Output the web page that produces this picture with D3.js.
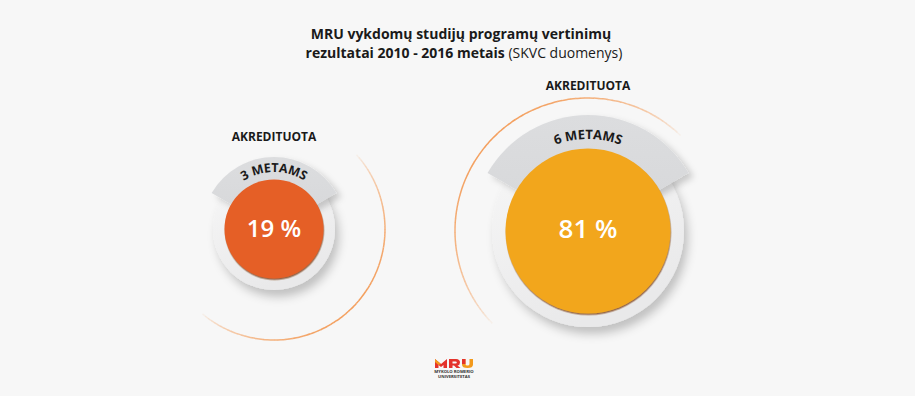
<!DOCTYPE html>
<html>
<head>
<meta charset="utf-8">
<script src="https://cdn.jsdelivr.net/npm/d3@7"></script>
<style>
  html, body { margin: 0; padding: 0; background: #f7f7f7; }
  svg { display: block; }
</style>
</head>
<body>
<svg id="chart" width="915" height="396"></svg>
<script>
// ---- data ----
const categories = ["3 METAMS", "6 METAMS"];
const values = [19, 81];
const headers = ["AKREDITUOTA", "AKREDITUOTA"];
const valueLabels = ["19 %", "81 %"];
const titleLine1 = "MRU vykdomų studijų programų vertinimų";
const titleLine2Bold = "rezultatai 2010 - 2016 metais";
const titleLine2Normal = " (SKVC duomenys)";
const colors = ["#e55e25", "#f2a61f"];

// ---- layout ----
const W = 915, H = 396;
const svg = d3.select("#chart");
svg.append("rect").attr("width", W).attr("height", H).attr("fill", "#f7f7f7");

const defs = svg.append("defs");
const sh = defs.append("filter").attr("id", "ringShadow").attr("x", "-30%").attr("y", "-30%").attr("width", "160%").attr("height", "160%");
sh.append("feDropShadow").attr("dx", 4).attr("dy", 7).attr("stdDeviation", 5).attr("flood-color", "#000").attr("flood-opacity", 0.22);
const sh2 = defs.append("filter").attr("id", "bandShadow").attr("x", "-30%").attr("y", "-30%").attr("width", "160%").attr("height", "160%");
sh2.append("feDropShadow").attr("dx", 5).attr("dy", 4).attr("stdDeviation", 3).attr("flood-color", "#000").attr("flood-opacity", 0.18);
const sh3 = defs.append("filter").attr("id", "discShadow").attr("x", "-30%").attr("y", "-30%").attr("width", "160%").attr("height", "160%");
sh3.append("feDropShadow").attr("dx", 0.5).attr("dy", 1.5).attr("stdDeviation", 0.6).attr("flood-color", "#7a3a10").attr("flood-opacity", 0.75);

const ringGrad = defs.append("linearGradient").attr("id", "ringGrad").attr("x1", 0).attr("y1", 0).attr("x2", 0.4).attr("y2", 1);
ringGrad.append("stop").attr("offset", "0%").attr("stop-color", "#f8f8f8");
ringGrad.append("stop").attr("offset", "100%").attr("stop-color", "#e9e9ea");
const bandGrad = defs.append("linearGradient").attr("id", "bandGrad").attr("x1", 0).attr("y1", 0).attr("x2", 0).attr("y2", 1);
bandGrad.append("stop").attr("offset", "0%").attr("stop-color", "#dcdddf");
bandGrad.append("stop").attr("offset", "100%").attr("stop-color", "#d6d7d9");

// value -> disc radius
const rScale = d3.scaleLinear().domain([19, 81]).range([49.5, 82.5]);
const xScale = d3.scalePoint().domain(categories).range([274, 588]);

const layout = [
  { cy: 229, ring: 61, band: 72, textR: 57, arcR: 111, arcA: [48, 220], headY: 141, valY: 237, valSize: 24, tagSize: 12.5 },
  { cy: 231, ring: 96, band: 116, textR: 92, arcR: 133, arcA: [-134, 44], headY: 90, valY: 238, valSize: 26, tagSize: 13 }
];

const rad = d => d * Math.PI / 180;

categories.forEach((cat, i) => {
  const L = layout[i];
  const cx = xScale(cat);
  const r = rScale(values[i]);
  const g = svg.append("g").attr("transform", `translate(${cx},${L.cy})`);

  // outer thin orange arc with fading ends
  const N = 90;
  const a0 = rad(L.arcA[0]), a1 = rad(L.arcA[1]);
  for (let k = 0; k < N; k++) {
    const s = a0 + (a1 - a0) * k / N, e = a0 + (a1 - a0) * (k + 1.05) / N;
    const t = (k + 0.5) / N;
    const op = Math.pow(Math.sin(Math.PI * t), 0.6);
    g.append("path")
      .attr("d", d3.arc()({ innerRadius: L.arcR - 0.75, outerRadius: L.arcR + 0.75, startAngle: s, endAngle: e }))
      .attr("fill", "#f39a55").attr("opacity", op * 0.95);
  }

  // white ring with shadow
  g.append("circle").attr("r", L.ring).attr("fill", "url(#ringGrad)").attr("filter", "url(#ringShadow)");

  // gray band
  g.append("path")
    .attr("d", d3.arc()({ innerRadius: 0, outerRadius: L.band, startAngle: rad(-60), endAngle: rad(60) }))
    .attr("fill", "url(#bandGrad)").attr("filter", "url(#bandShadow)");

  // disc
  g.append("circle").attr("r", r).attr("fill", colors[i]).attr("filter", "url(#discShadow)");

  // curved tag text (path in absolute coordinates)
  const pid = "tp" + i;
  const tr = L.textR;
  const sx = cx - tr * Math.sin(rad(60)), ex = cx + tr * Math.sin(rad(60)), yy = L.cy - tr * Math.cos(rad(60));
  defs.append("path").attr("id", pid)
    .attr("d", `M ${sx} ${yy} A ${tr} ${tr} 0 0 1 ${ex} ${yy}`);
  svg.append("text")
    .attr("font-family", "'Open Sans', sans-serif").attr("font-weight", 700)
    .attr("font-size", L.tagSize).attr("fill", "#1a1a1a")
    .append("textPath").attr("href", "#" + pid).attr("startOffset", "50%").attr("text-anchor", "middle")
    .text(cat);

  // value label
  g.append("text").attr("x", 0).attr("y", L.valY - L.cy)
    .attr("text-anchor", "middle").attr("fill", "#fff")
    .attr("font-family", "'Open Sans', sans-serif").attr("font-weight", 600).attr("font-size", L.valSize)
    .text(valueLabels[i]);

  // header
  svg.append("text").attr("x", cx).attr("y", L.headY).attr("text-anchor", "middle")
    .attr("fill", "#1a1a1a").attr("font-family", "'Open Sans', sans-serif").attr("font-weight", 700)
    .attr("font-size", 12).text(headers[i]);
});

// title
const title = svg.append("text").attr("text-anchor", "middle").attr("fill", "#1a1a1a")
  .attr("font-family", "'Open Sans', sans-serif").attr("font-size", 14);
title.append("tspan").attr("x", 461).attr("y", 39).attr("font-weight", 700).text(titleLine1);
const l2 = title.append("tspan").attr("x", 464).attr("y", 58);
l2.append("tspan").attr("font-weight", 700).text(titleLine2Bold);
l2.append("tspan").attr("font-weight", 400).text(titleLine2Normal);

// logo
const logo = svg.append("g").attr("transform", "translate(435,358)");
logo.append("path").attr("d", "M0 10 L0 1 L6 6 L12 1 L12 10 L8.5 10 L8.5 7 L6 9 L3.5 7 L3.5 10 Z").attr("fill", "#e4322b");
logo.append("path").attr("d", "M0 1 L6 6 L3.5 7 L0 4 Z").attr("fill", "#f39a1c");
logo.append("path").attr("d", "M14 1 L21 1 Q25 1 25 4.5 Q25 7 22.5 7.5 L25.5 10 L21.5 10 L19 7.5 L17.5 7.5 L17.5 10 L14 10 Z").attr("fill", "#e4322b");
logo.append("path").attr("d", "M17.5 3.5 L20.5 3.5 Q21.8 3.5 21.8 4.5 Q21.8 5.5 20.5 5.5 L17.5 5.5 Z").attr("fill", "#f7f7f7");
logo.append("path").attr("d", "M27 1 L30.5 1 L30.5 6 Q30.5 7.5 32.5 7.5 Q34.5 7.5 34.5 6 L34.5 1 L38 1 L38 6.5 Q38 10 32.5 10 Q27 10 27 6.5 Z").attr("fill", "#f39a1c");
logo.append("path").attr("d", "M27 1 L30.5 1 L30.5 6 L27 6 Z").attr("fill", "#e4322b");
logo.append("text").attr("x", 19).attr("y", 15).attr("text-anchor", "middle")
  .attr("font-family", "'Open Sans', sans-serif").attr("font-size", 4.2).attr("font-weight", 700).attr("fill", "#333")
  .text("MYKOLO ROMERIO");
logo.append("text").attr("x", 19).attr("y", 20).attr("text-anchor", "middle")
  .attr("font-family", "'Open Sans', sans-serif").attr("font-size", 4.2).attr("font-weight", 700).attr("fill", "#333")
  .text("UNIVERSITETAS");
</script>
</body>
</html>
